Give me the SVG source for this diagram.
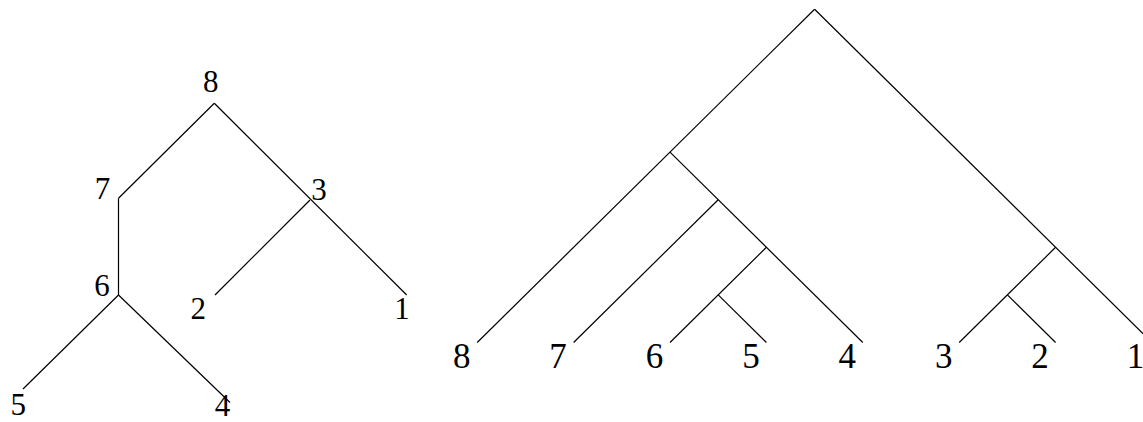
<svg xmlns="http://www.w3.org/2000/svg" width="1143" height="422" viewBox="0 0 1143 422">
<style>
.e{stroke:#000;stroke-width:1.2;fill:none;stroke-linecap:butt}
.l{font-family:"Liberation Serif","DejaVu Serif",serif;font-size:31px;fill:#000;text-anchor:middle}
.r{font-family:"Liberation Serif","DejaVu Serif",serif;font-size:35px;fill:#000;text-anchor:middle}
</style>
<rect width="1143" height="422" fill="#fff"/>
<g id="connectors">
<!-- left tree -->
<line class="e" x1="214.3" y1="103.3" x2="118.5" y2="198.3"/>
<line class="e" x1="118.5" y1="198.3" x2="118.5" y2="295"/>
<line class="e" x1="118.5" y1="295" x2="23" y2="389"/>
<line class="e" x1="118.5" y1="295" x2="230" y2="402.5"/>
<line class="e" x1="214.3" y1="103.3" x2="406.7" y2="295"/>
<line class="e" x1="310" y1="200" x2="215" y2="295"/>
<!-- right tree -->
<line class="e" x1="814.6" y1="9.3" x2="477.2" y2="342.5"/>
<line class="e" x1="814.6" y1="9.3" x2="1152" y2="342.5"/>
<line class="e" x1="670" y1="152.1" x2="862.8" y2="342.5"/>
<line class="e" x1="718.2" y1="199.7" x2="573.6" y2="342.5"/>
<line class="e" x1="766.4" y1="247.3" x2="670" y2="342.5"/>
<line class="e" x1="718.2" y1="294.9" x2="766.4" y2="342.5"/>
<line class="e" x1="1055.6" y1="247.3" x2="959.2" y2="342.5"/>
<line class="e" x1="1007.4" y1="294.9" x2="1055.6" y2="342.5"/>
</g>
<g id="left-n8"><text class="l" x="210.7" y="92">8</text></g>
<g id="left-n7"><text class="l" x="102.5" y="199">7</text></g>
<g id="left-n6"><text class="l" x="102" y="295.5">6</text></g>
<g id="left-n3"><text class="l" x="319" y="199.5">3</text></g>
<g id="left-n2"><text class="l" x="198.3" y="319">2</text></g>
<g id="left-n1"><text class="l" x="402" y="319">1</text></g>
<g id="left-n5"><text class="l" x="18.3" y="415">5</text></g>
<g id="left-n4"><text class="l" x="222.5" y="415.5">4</text></g>
<g id="right-n8"><text class="r" x="461.7" y="367.5">8</text></g>
<g id="right-n7"><text class="r" x="558.1" y="367.5">7</text></g>
<g id="right-n6"><text class="r" x="654.5" y="367.5">6</text></g>
<g id="right-n5"><text class="r" x="750.9" y="367.5">5</text></g>
<g id="right-n4"><text class="r" x="847.3" y="367.5">4</text></g>
<g id="right-n3"><text class="r" x="943.7" y="367.5">3</text></g>
<g id="right-n2"><text class="r" x="1040.1" y="367.5">2</text></g>
<g id="right-n1"><text class="r" x="1135.5" y="367.5">1</text></g>
</svg>
